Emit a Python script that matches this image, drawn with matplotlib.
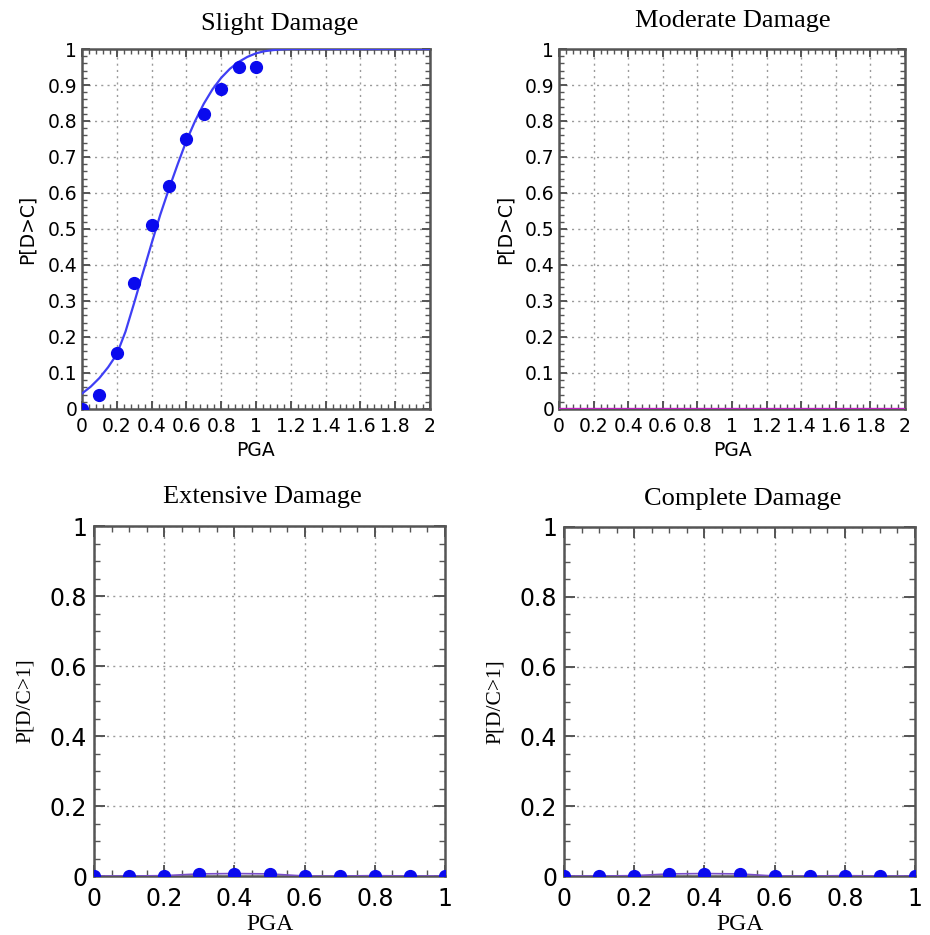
import numpy as np
import matplotlib
matplotlib.use("Agg")
import matplotlib.pyplot as plt
from matplotlib.ticker import MultipleLocator, FuncFormatter

# ---------------- data ----------------
slight_pga = [0.0, 0.1, 0.2, 0.3, 0.4, 0.5, 0.6, 0.7, 0.8, 0.9, 1.0]
slight_obs = [0.0, 0.04, 0.155, 0.35, 0.51, 0.62, 0.75, 0.82, 0.89, 0.95, 0.95]

curve_pga = [0.0, 0.05, 0.1, 0.15, 0.2, 0.25, 0.3, 0.35, 0.4, 0.45, 0.5, 0.55,
             0.6, 0.65, 0.7, 0.75, 0.8, 0.85, 0.9, 0.95, 1.0, 1.05, 1.1, 1.15,
             1.2, 2.0]
curve_slight = [0.043, 0.062, 0.086, 0.116, 0.152, 0.215, 0.295, 0.378, 0.46,
                0.54, 0.612, 0.68, 0.745, 0.80, 0.848, 0.888, 0.92, 0.945,
                0.964, 0.978, 0.988, 0.994, 0.997, 0.999, 1.0, 1.0]

moderate_pga = [0.0, 2.0]
moderate_curve = [0.0, 0.0]

low_pga = [0.0, 0.1, 0.2, 0.3, 0.4, 0.5, 0.6, 0.7, 0.8, 0.9, 1.0]
extensive_obs = [0.0, 0.0, 0.001, 0.006, 0.007, 0.006, 0.0, 0.0, 0.001, 0.0, 0.0]
complete_obs = [0.0, 0.0, 0.001, 0.006, 0.007, 0.006, 0.0, 0.0, 0.001, 0.0, 0.0]

titles = ["Slight Damage", "Moderate Damage", "Extensive Damage", "Complete Damage"]

# ---------------- figure ----------------
W, H = 930, 935
fig = plt.figure(figsize=(W / 100, H / 100), dpi=100)

def rect(l, t, r, b):
    return [l / W, 1 - b / H, (r - l) / W, (b - t) / H]

SANS = "DejaVu Sans"
SERIF = "Liberation Serif"
SPINE = "#555555"
GRIDC = "#9a9a9a"

def style_axes(ax, xmax, xmaj, xmin, ymaj, ymin, fs, pad_x, pad_y, maj_len, min_len):
    ax.set_xlim(0, xmax)
    ax.set_ylim(0, 1)
    ax.xaxis.set_major_locator(MultipleLocator(xmaj))
    ax.xaxis.set_minor_locator(MultipleLocator(xmin))
    ax.yaxis.set_major_locator(MultipleLocator(ymaj))
    ax.yaxis.set_minor_locator(MultipleLocator(ymin))
    ax.tick_params(which="both", direction="in", top=True, right=True,
                   color=SPINE)
    ax.tick_params(which="major", length=maj_len, width=1.4)
    ax.tick_params(which="minor", length=min_len, width=1.0)
    ax.tick_params(axis="x", which="major", pad=pad_x, labelsize=fs)
    ax.tick_params(axis="y", which="major", pad=pad_y, labelsize=fs)
    for lab in ax.get_xticklabels() + ax.get_yticklabels():
        lab.set_fontfamily(SANS)
    for s in ax.spines.values():
        s.set_color(SPINE)
        s.set_linewidth(1.8)
    ax.grid(True, which="major", linestyle=(0, (1.5, 3)), color=GRIDC,
            linewidth=1.0)
    ax.set_axisbelow(True)

def fmt_top(v, pos):
    return "%g" % round(v, 2)

# Slight Damage
ax1 = fig.add_axes(rect(82, 49, 430, 409))
style_axes(ax1, 2, 0.2, 0.04, 0.1, 0.02, 13.5, 6, 3.5, 6, 3.5)
ax1.plot(curve_pga, curve_slight, color="#3f3ff5", lw=1.6, zorder=3)
ax1.plot(slight_pga, slight_obs, "o", color="#0a0aee", ms=8.5, zorder=4,
         clip_on=True)
ax1.xaxis.set_major_formatter(FuncFormatter(fmt_top))
ax1.yaxis.set_major_formatter(FuncFormatter(fmt_top))
ax1.set_xlabel("PGA", fontsize=13.5, fontfamily=SANS, va="center")
ax1.xaxis.set_label_coords(0.5, -0.114)
ax1.set_ylabel("P[D>C]", fontsize=13.5, fontfamily=SANS, va="center")
ax1.yaxis.set_label_coords(-0.158, 0.5)

# Moderate Damage
ax2 = fig.add_axes(rect(559, 49, 905, 409))
style_axes(ax2, 2, 0.2, 0.04, 0.1, 0.02, 13.5, 6, 3.5, 6, 3.5)
ax2.plot(moderate_pga, moderate_curve, color="#c21fc2", lw=2.4, zorder=3)
ax2.xaxis.set_major_formatter(FuncFormatter(fmt_top))
ax2.yaxis.set_major_formatter(FuncFormatter(fmt_top))
ax2.set_xlabel("PGA", fontsize=13.5, fontfamily=SANS, va="center")
ax2.xaxis.set_label_coords(0.5, -0.114)
ax2.set_ylabel("P[D>C]", fontsize=13.5, fontfamily=SANS, va="center")
ax2.yaxis.set_label_coords(-0.156, 0.5)

# Extensive & Complete
for (l, t, r, b), obs in [((94, 526, 445, 876), extensive_obs),
                          ((564, 527, 915, 876), complete_obs)]:
    ax = fig.add_axes(rect(l, t, r, b))
    style_axes(ax, 1, 0.2, 0.05, 0.2, 0.05, 17, 8, 5, 8, 4)
    ax.plot(low_pga, obs, color="#7a4fc8", lw=1.2, zorder=3)
    ax.plot(low_pga, obs, "o", color="#0a0aee", ms=8.5, zorder=4)
    ax.xaxis.set_major_formatter(FuncFormatter(fmt_top))
    ax.yaxis.set_major_formatter(FuncFormatter(fmt_top))
    ax.set_xlabel("PGA", fontsize=17, fontfamily=SERIF, va="center")
    ax.xaxis.set_label_coords(0.5, -0.14)
    ax.set_ylabel("P[D/C>1]", fontsize=15.5, fontfamily=SERIF, va="center")
    ax.yaxis.set_label_coords(-0.194, 0.5)

# Titles
for txt, (x, y) in zip(titles, [(280, 30), (733, 27), (262, 503), (743, 505)]):
    fig.text(x / W, 1 - y / H, txt, fontsize=19, fontfamily=SERIF,
             ha="center", va="baseline")

fig.savefig("out.png", dpi=100, facecolor="white")
